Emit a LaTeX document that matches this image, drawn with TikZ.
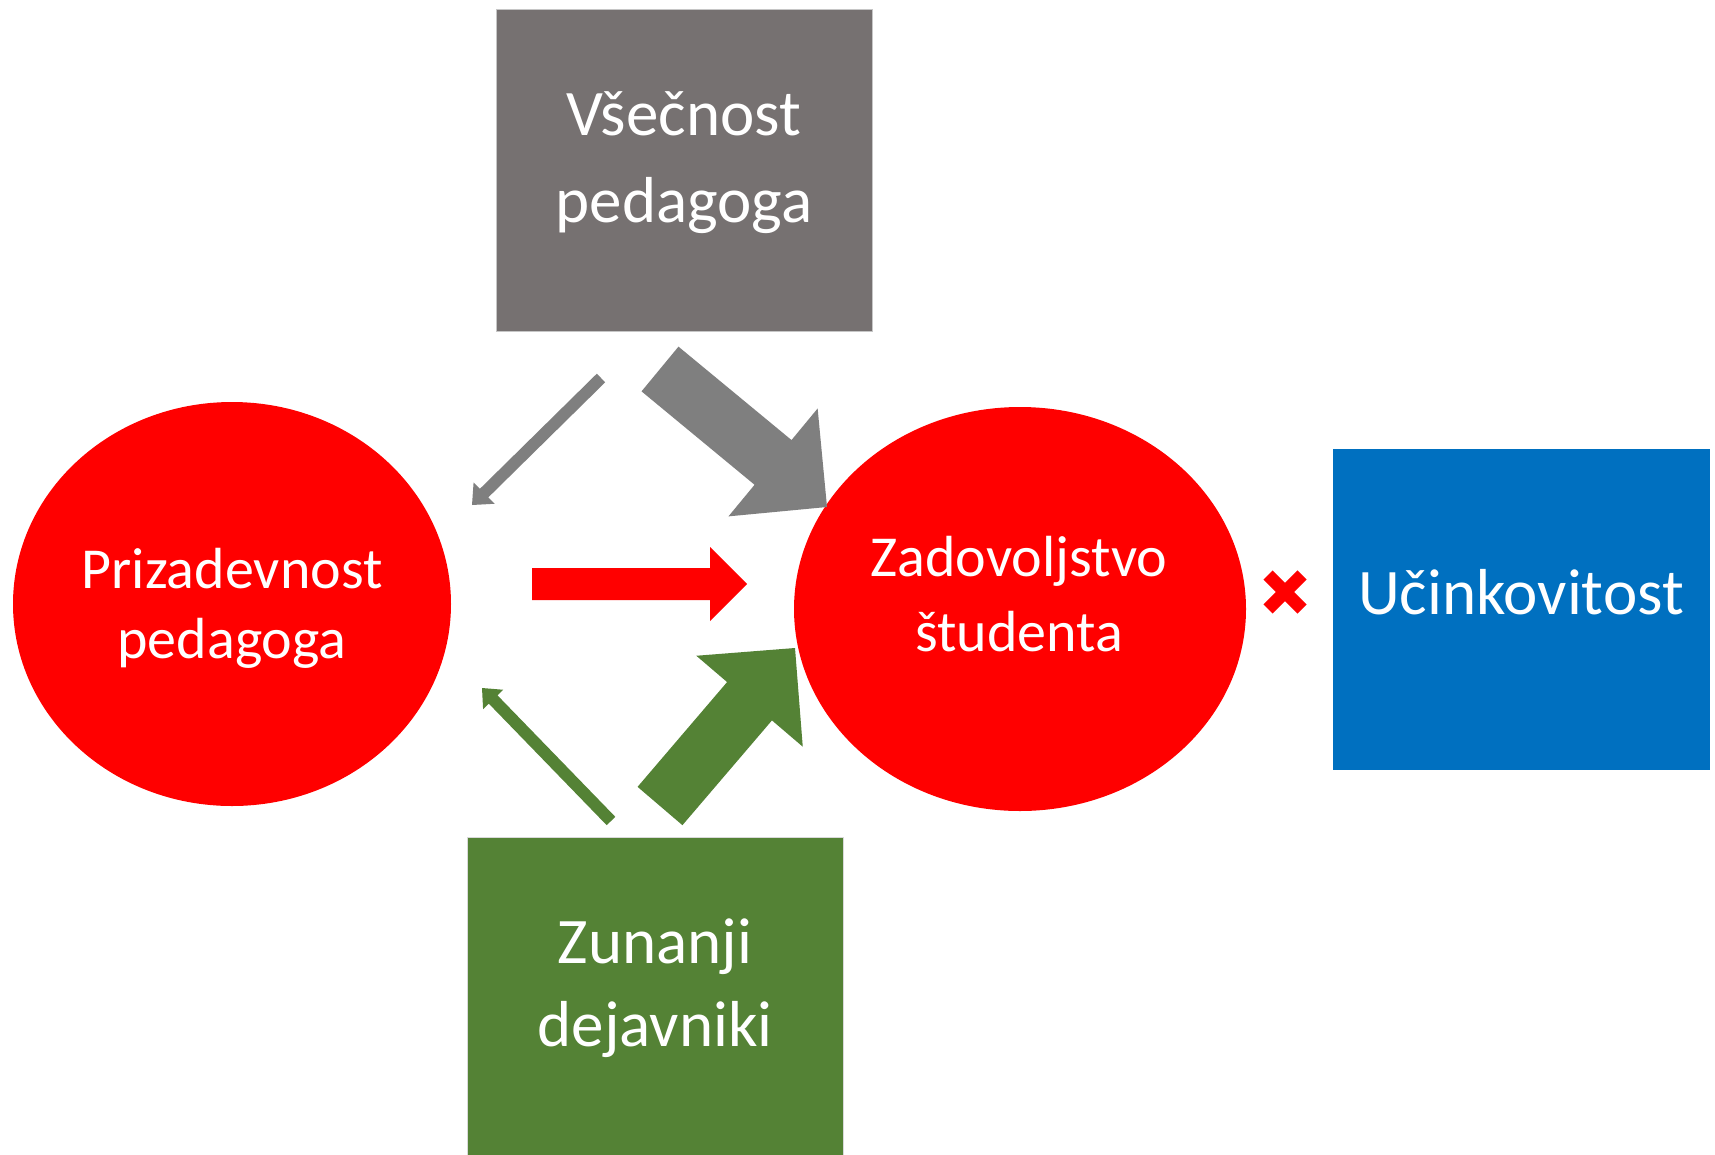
\documentclass[tikz,border=0pt]{standalone}
\usepackage{fontspec}
\setmainfont{Carlito}
\usetikzlibrary{shapes.geometric,calc}
\definecolor{boxgray}{HTML}{767171}
\definecolor{arrgray}{HTML}{7F7F7F}
\definecolor{boxgreen}{HTML}{548235}
\definecolor{boxblue}{HTML}{0070C0}
\definecolor{pptred}{HTML}{FF0000}
% block arrow: start, tip, half shaft width, half head width, head length, colour
\newcommand\blockarrowdraw[6]{%
  \fill[#6] ($(#1)!#3!90:(#2)$)
    -- ($($(#2)!#5!(#1)$)!#3!-90:(#1)$)
    -- ($($(#2)!#5!(#1)$)!#4!-90:(#1)$)
    -- (#2)
    -- ($($(#2)!#5!(#1)$)!#4!90:(#1)$)
    -- ($($(#2)!#5!(#1)$)!#3!90:(#1)$)
    -- ($(#1)!#3!-90:(#2)$) -- cycle;}
\tikzset{
  boxnode/.style={rectangle, inner sep=0pt, outer sep=0pt, minimum width=376pt, minimum height=322pt},
  ovalnode/.style={ellipse, fill=pptred, inner sep=0pt, outer sep=0pt},
  bigtext/.style={text=white, inner sep=0pt, anchor=base, font=\fontsize{65}{65}\selectfont},
  midtext/.style={text=white, inner sep=0pt, anchor=base, font=\fontsize{58}{58}\selectfont},
}
\begin{document}
\begin{tikzpicture}[x=1pt,y=-1pt]
\useasboundingbox[fill=white] (0,0) rectangle (1715,1154);
% shapes
\node[boxnode, fill=boxgray, draw=gray!45, line width=1pt] (vsec) at (684,170) {};
\node[boxnode, fill=boxgreen, draw=gray!30, line width=1pt] (zun) at (655,998) {};
\node[boxnode, fill=boxblue, minimum width=377pt, minimum height=321pt] (uci) at (1521.5,609.5) {};
\node[ovalnode, minimum width=438pt, minimum height=404pt] (priz) at (232,604) {};
\node[ovalnode, minimum width=452pt, minimum height=404pt] (zad) at (1020,609) {};
% texts
\node[bigtext] (t1a) at (684,135) {Všečnost};
\node[bigtext] (t1b) at (684,222) {pedagoga};
\node[midtext] (t2a) at (232,588) {Prizadevnost};
\node[midtext] (t2b) at (232,658) {pedagoga};
\node[midtext] (t3a) at (1019,576) {Zadovoljstvo};
\node[midtext] (t3b) at (1019,651) {študenta};
\node[bigtext] (t4) at (1521,614) {Učinkovitost};
\node[bigtext] (t5a) at (655,963) {Zunanji};
\node[bigtext] (t5b) at (655,1046) {dejavniki};
% arrow end points
\coordinate (ga1) at (601,378);  \coordinate (ga2) at (472,505);
\coordinate (gb1) at (660,369);  \coordinate (gb2) at (827,507);
\coordinate (ra1) at (532,584);  \coordinate (ra2) at (747,584);
\coordinate (za1) at (611,821);  \coordinate (za2) at (482,688);
\coordinate (zb1) at (660,806);  \coordinate (zb2) at (795,648);
\blockarrowdraw{ga1}{ga2}{6pt}{15pt}{17pt}{arrgray}
\blockarrowdraw{gb1}{gb2}{29pt}{70pt}{70pt}{arrgray}
\blockarrowdraw{ra1}{ra2}{16pt}{37pt}{37pt}{pptred}
\blockarrowdraw{za1}{za2}{6pt}{14pt}{16pt}{boxgreen}
\blockarrowdraw{zb1}{zb2}{29.5pt}{70pt}{70pt}{boxgreen}
% cross mark
\coordinate (xc) at (1285,592);
\draw[pptred, line width=13pt, line cap=butt] ($(xc)+(-17,-17)$) -- ($(xc)+(17,17)$);
\draw[pptred, line width=13pt, line cap=butt] ($(xc)+(-17,17)$) -- ($(xc)+(17,-17)$);
\end{tikzpicture}
\end{document}
